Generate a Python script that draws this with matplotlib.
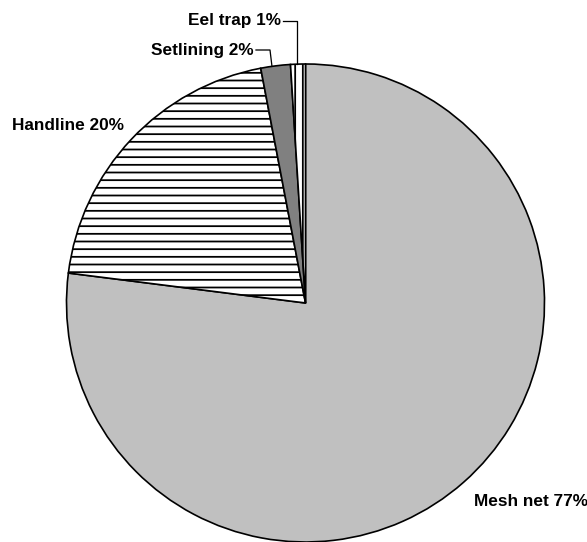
import numpy as np
import matplotlib
matplotlib.use("Agg")
import matplotlib.pyplot as plt

# gear shares (%)
gears = ["Mesh net", "Handline", "Setlining", "Eel trap"]
shares = [77, 20, 2, 1]
colors = ["#c0c0c0", "white", "#808080", "white"]
hatches = [None, "--", None, "||"]

plt.rcParams['font.family'] = ['Liberation Sans', 'DejaVu Sans']
plt.rcParams['hatch.linewidth'] = 1.4
plt.rcParams['hatch.color'] = 'black'

DPI = 92
W, H = 587, 542
fig = plt.figure(figsize=(W / DPI, H / DPI), dpi=DPI)
ax = fig.add_axes([0, 0, 1, 1])

cx, cy, r = 305.5, H - 303, 239
wedges, _ = ax.pie(shares, colors=colors, startangle=90, counterclock=False,
                   center=(cx, cy), radius=r, frame=True,
                   wedgeprops=dict(edgecolor='black', linewidth=1.3))
for w, h in zip(wedges, hatches):
    if h:
        w.set_hatch(h)
ax.set_xlim(0, W)
ax.set_ylim(0, H)
ax.set_aspect('equal')
ax.axis('off')

fs = 13.5
lab = [f"{g} {s}%" for g, s in zip(gears, shares)]
ax.text(474, H - 501, lab[0], fontsize=fs, fontweight='bold', va='center', ha='left')
ax.text(12, H - 125, lab[1], fontsize=fs, fontweight='bold', va='center', ha='left')
ax.text(254, H - 50, lab[2], fontsize=fs, fontweight='bold', va='center', ha='right')
ax.text(281, H - 21, lab[3], fontsize=fs, fontweight='bold', va='center', ha='right')

# leader lines for the small slices
def edge_pt(w, frac):
    a = np.deg2rad(w.theta1 + (w.theta2 - w.theta1) * frac)
    return cx + r * np.cos(a), cy + r * np.sin(a)

px, py = edge_pt(wedges[2], 0.62)
ax.plot([256, 270, px], [H - 50, H - 50, py], color='black', lw=1.0)
px, py = edge_pt(wedges[3], 0.55)
ax.plot([283, px, px], [H - 21, H - 21, py], color='black', lw=1.0)

fig.savefig("out.png", dpi=DPI)
